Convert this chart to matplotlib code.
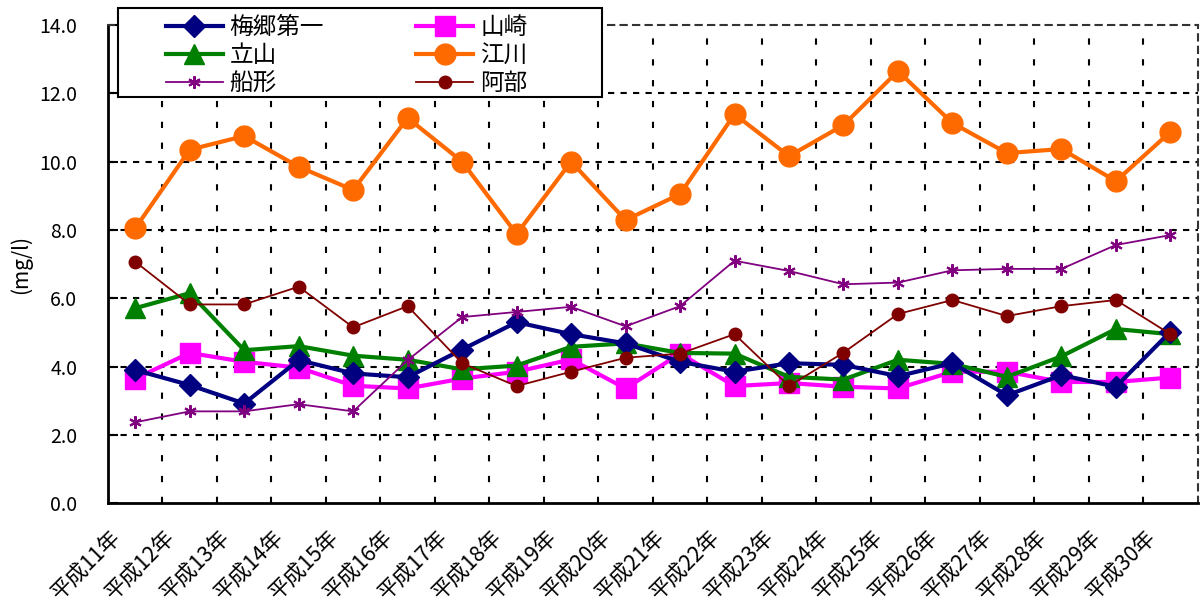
import numpy as np
import matplotlib
matplotlib.use("Agg")
import matplotlib.pyplot as plt
from matplotlib.patches import Rectangle
from matplotlib.transforms import ScaledTranslation

plt.rcParams['font.family'] = ['Noto Sans CJK JP', 'DejaVu Sans']

years = ["平成%d年" % y for y in range(11, 31)]

umesato = [3.90, 3.46, 2.92, 4.19, 3.80, 3.69, 4.50, 5.30, 4.95, 4.68,
           4.14, 3.85, 4.10, 4.05, 3.72, 4.10, 3.16, 3.75, 3.41, 5.02]
yamazaki = [3.65, 4.40, 4.14, 3.97, 3.44, 3.36, 3.65, 3.85, 4.21, 3.36,
            4.38, 3.43, 3.52, 3.41, 3.36, 3.85, 3.85, 3.55, 3.55, 3.68]
tateyama = [5.71, 6.15, 4.48, 4.60, 4.32, 4.20, 3.92, 4.03, 4.58, 4.68,
            4.40, 4.38, 3.70, 3.62, 4.20, 4.08, 3.70, 4.30, 5.10, 4.95]
edogawa = [8.05, 10.35, 10.75, 9.85, 9.17, 11.28, 10.00, 7.88, 10.00, 8.29,
           9.05, 11.39, 10.16, 11.07, 12.65, 11.13, 10.25, 10.37, 9.43, 10.87]
funagata = [2.37, 2.69, 2.69, 2.90, 2.69, 4.19, 5.45, 5.60, 5.75, 5.18,
            5.77, 7.10, 6.80, 6.41, 6.46, 6.82, 6.86, 6.86, 7.56, 7.85]
abe = [7.07, 5.82, 5.82, 6.34, 5.15, 5.77, 4.10, 3.43, 3.85, 4.26,
       4.38, 4.95, 3.43, 4.41, 5.54, 5.95, 5.48, 5.77, 5.95, 4.95]

fig = plt.figure(figsize=(12, 6.1), dpi=100)
ax = fig.add_axes([0.09, 0.175, 0.908, 0.784])

x = np.arange(len(years))

l1, = ax.plot(x, umesato, color='#000080', lw=3, marker='D', ms=11, label='梅郷第一', zorder=5)
l2, = ax.plot(x, yamazaki, color='#FF00FF', lw=3, marker='s', ms=14, label='山崎', zorder=4)
l3, = ax.plot(x, tateyama, color='#008000', lw=3, marker='^', ms=15, label='立山', zorder=4)
l4, = ax.plot(x, edogawa, color='#FF6A00', lw=3, marker='o', ms=15, label='江川', zorder=4)
l5, = ax.plot(x, funagata, color='#800080', lw=1.3, marker=(6, 2, 0), ms=9, mew=1.5,
              label='船形', zorder=6)
l6, = ax.plot(x, abe, color='#800000', lw=1.3, marker='o', ms=9, label='阿部', zorder=6)

ax.set_xlim(-0.5, len(years) - 0.5)
ax.set_ylim(0, 14)
yt = np.arange(0, 14.1, 2)
ax.set_yticks(yt)
ax.set_yticklabels(["%.1f" % v for v in yt], fontsize=14)
ax.set_xticks(x)
ax.set_xticklabels(years, rotation=45, ha='right', va='center',
                   rotation_mode='anchor', fontsize=15.5)
ax.tick_params(axis='x', length=0, pad=22)
ax.tick_params(axis='y', direction='in', length=7, width=1.5, pad=22)
off = ScaledTranslation(-13 / 72, 0, fig.dpi_scale_trans)
for lab in ax.get_xticklabels():
    lab.set_transform(lab.get_transform() + off)

# gridlines
for v in yt[1:-1]:
    ax.axhline(v, color='black', lw=1.5, ls=(0, (3, 3)), zorder=1)
for b in np.arange(0.5, len(years) - 1, 1):
    ax.axvline(b, color='black', lw=1.5, ls=(0, (3, 7)), zorder=1)

ax.spines['left'].set_linewidth(2)
ax.spines['bottom'].set_linewidth(2)
for s in ['top', 'right']:
    ax.spines[s].set_linestyle((0, (3, 3)))
    ax.spines[s].set_linewidth(1.5)
    ax.spines[s].set_color('#333333')

ax.set_ylabel('(mg/l)', fontsize=15)
ax.yaxis.set_label_coords(-0.07, 0.5)

# legend box drawn separately so its padding can match
W, H = 1200.0, 610.0
box = Rectangle((118 / W, 1 - 97 / H), (602 - 118) / W, (97 - 8) / H,
                transform=fig.transFigure, facecolor='white', edgecolor='black',
                lw=1.5, zorder=9)
fig.patches.append(box)

handles = [l1, l3, l5, l2, l4, l6]
leg = fig.legend(handles=handles, loc='upper left', bbox_to_anchor=(166 / W, 1 - 16 / H),
                 ncol=2, fontsize=17, frameon=False,
                 columnspacing=3.9, handlelength=2.4, labelspacing=0.22,
                 borderpad=0.0, handletextpad=0.3, borderaxespad=0)
leg.set_zorder(10)

fig.savefig('out.png', dpi=100)
